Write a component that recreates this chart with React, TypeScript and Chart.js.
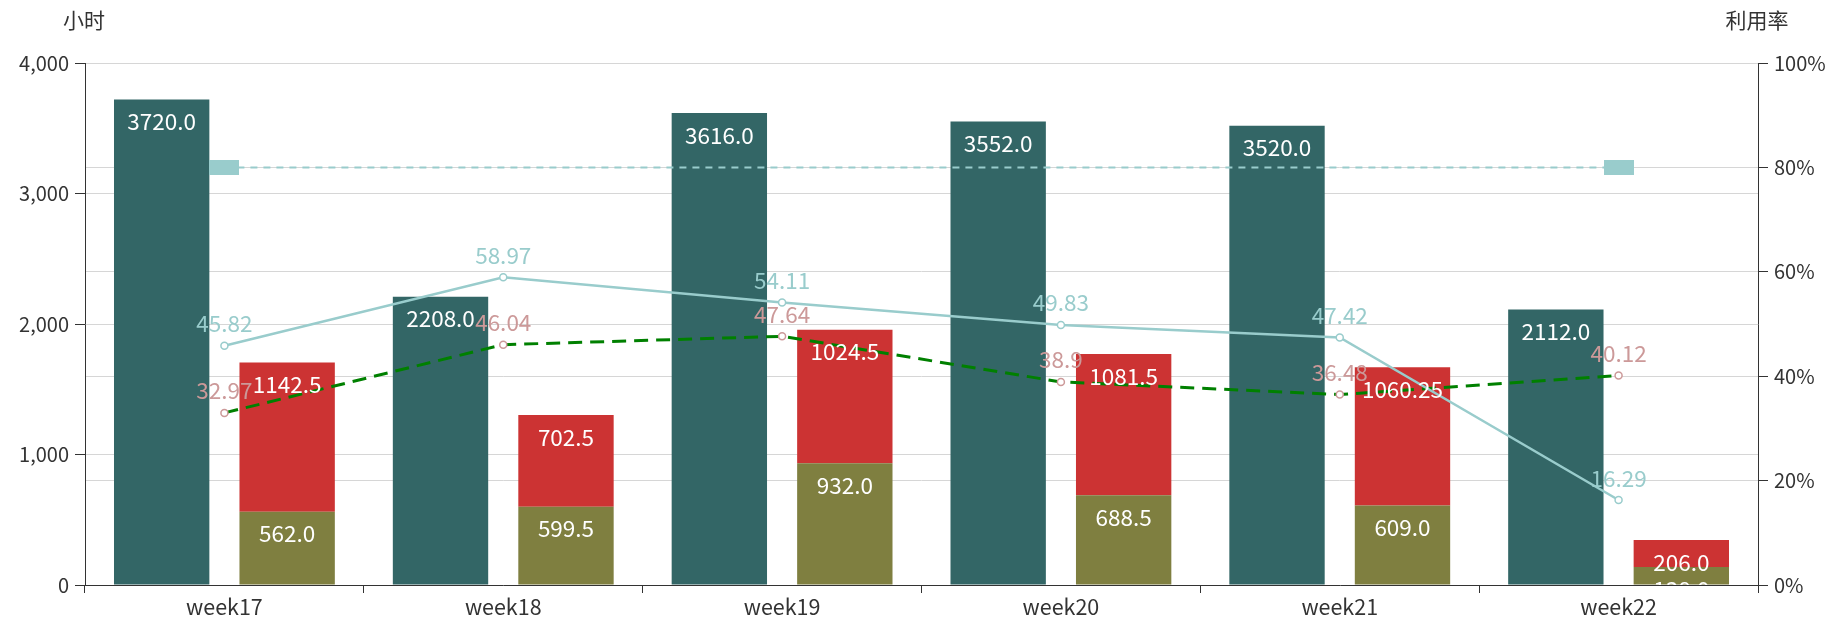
import React, { useEffect, useRef } from 'react';
import { Chart, registerables } from 'chart.js';

Chart.register(...registerables);

const categories = ['week17', 'week18', 'week19', 'week20', 'week21', 'week22'];
const totalHours = [3720, 2208, 3616, 3552, 3520, 2112];
const usedHours = [562, 599.5, 932, 688.5, 609, 138];
const otherHours = [1142.5, 702.5, 1024.5, 1081.5, 1060.25, 206];
const utilRate = [45.82, 58.97, 54.11, 49.83, 47.42, 16.29];
const otherRate = [32.97, 46.04, 47.64, 38.9, 36.48, 40.12];
const targetRate = 80;
const leftAxisName = '小时';
const rightAxisName = '利用率';

const FONT = '"Noto Sans CJK SC", "Noto Sans", sans-serif';
const TEAL = '#336666';
const OLIVE = '#7f7f40';
const RED = '#cc3333';
const LIGHTBLUE = '#99cccc';
const PINK = '#cc9999';
const GREEN = '#008000';

function fmtBar(v: number): string {
  return Number.isInteger(v) ? v.toFixed(1) : String(v);
}

function makeRect(w: number, h: number, color: string): HTMLCanvasElement {
  const c = document.createElement('canvas');
  c.width = w;
  c.height = h;
  const g = c.getContext('2d')!;
  g.fillStyle = color;
  g.fillRect(0, 0, w, h);
  return c;
}

const labelPlugin = {
  id: 'valueLabels',
  afterDatasetsDraw(chart: any) {
    const ctx = chart.ctx;
    const area = chart.chartArea;
    ctx.save();
    ctx.font = `22.5px ${FONT}`;
    ctx.textAlign = 'center';
    ctx.textBaseline = 'middle';
    chart.data.datasets.forEach((ds: any, i: number) => {
      const kind = ds.labelKind;
      if (!kind) return;
      const meta = chart.getDatasetMeta(i);
      meta.data.forEach((el: any, j: number) => {
        const v = ds.data[j];
        if (kind === 'bar') {
          ctx.save();
          ctx.beginPath();
          ctx.rect(area.left, area.top, area.right - area.left, area.bottom - area.top);
          ctx.clip();
          ctx.fillStyle = '#ffffff';
          ctx.fillText(fmtBar(v), el.x, el.y + 22);
          ctx.restore();
        } else {
          ctx.fillStyle = ds.labelColor;
          ctx.fillText(String(v), el.x, el.y - 22);
        }
      });
    });
    ctx.restore();
  },
  afterDraw(chart: any) {
    const ctx = chart.ctx;
    const area = chart.chartArea;
    ctx.save();
    ctx.font = `21px ${FONT}`;
    ctx.fillStyle = '#333333';
    ctx.textAlign = 'center';
    ctx.textBaseline = 'middle';
    ctx.fillText(leftAxisName, area.left - 1, 20);
    ctx.fillText(rightAxisName, area.right - 1, 20);
    ctx.restore();
  },
};

export default function App() {
  const ref = useRef<HTMLCanvasElement | null>(null);

  useEffect(() => {
    document.body.style.margin = '0';
    const canvas = ref.current;
    if (!canvas) return;
    const rectSym = makeRect(30, 15, LIGHTBLUE);
    const chart = new Chart(canvas, {
      type: 'bar',
      data: {
        labels: categories,
        datasets: [
          {
            type: 'line',
            label: 'target',
            data: [
              { x: categories[0], y: targetRate },
              { x: categories[categories.length - 1], y: targetRate },
            ],
            yAxisID: 'y1',
            borderColor: LIGHTBLUE,
            borderWidth: 2,
            borderDash: [7, 6],
            pointStyle: rectSym,
            pointRadius: 8,
            pointHoverRadius: 8,
            order: 0,
          } as any,
          {
            type: 'line',
            label: 'rate',
            data: utilRate,
            yAxisID: 'y1',
            borderColor: LIGHTBLUE,
            borderWidth: 2.5,
            pointRadius: 3.5,
            pointBorderWidth: 1.5,
            pointBorderColor: LIGHTBLUE,
            pointBackgroundColor: '#ffffff',
            tension: 0,
            labelKind: 'line',
            labelColor: LIGHTBLUE,
            order: 0,
          } as any,
          {
            type: 'line',
            label: 'rate2',
            data: otherRate,
            yAxisID: 'y1',
            borderColor: GREEN,
            borderWidth: 3,
            borderDash: [14, 8],
            pointRadius: 3.5,
            pointBorderWidth: 1.5,
            pointBorderColor: PINK,
            pointBackgroundColor: '#ffffff',
            tension: 0,
            labelKind: 'line',
            labelColor: PINK,
            order: 0,
          } as any,
          {
            type: 'bar',
            label: 'total',
            data: totalHours,
            yAxisID: 'y',
            stack: 'total',
            backgroundColor: TEAL,
            categoryPercentage: 0.9,
            barPercentage: 0.76,
            labelKind: 'bar',
            order: 1,
          } as any,
          {
            type: 'bar',
            label: 'used',
            data: usedHours,
            yAxisID: 'y',
            stack: 'used',
            backgroundColor: OLIVE,
            categoryPercentage: 0.9,
            barPercentage: 0.76,
            labelKind: 'bar',
            order: 1,
          } as any,
          {
            type: 'bar',
            label: 'other',
            data: otherHours,
            yAxisID: 'y',
            stack: 'used',
            backgroundColor: RED,
            categoryPercentage: 0.9,
            barPercentage: 0.76,
            labelKind: 'bar',
            order: 1,
          } as any,
        ],
      },
      options: {
        responsive: false,
        animation: false,
        devicePixelRatio: 1,
        layout: { padding: { top: 63, left: 0, right: 0, bottom: 0 } },
        plugins: {
          legend: { display: false },
          tooltip: { enabled: false },
        },
        scales: {
          x: {
            stacked: true,
            offset: true,
            grid: {
              offset: true,
              drawOnChartArea: false,
              drawTicks: true,
              tickLength: 8,
              tickColor: '#333333',
            },
            border: { display: true, color: '#333333', width: 1 },
            ticks: {
              color: '#333333',
              font: { family: FONT, size: 21.5 },
              padding: 1,
              maxRotation: 0,
            },
            afterFit(scale: any) {
              scale.height = 34;
            },
          },
          y: {
            type: 'linear',
            position: 'left',
            stacked: true,
            min: 0,
            max: 4000,
            ticks: {
              stepSize: 1000,
              color: '#333333',
              font: { family: FONT, size: 20 },
              padding: 6,
              callback: (v: any) => Number(v).toLocaleString('en-US'),
            },
            grid: {
              color: '#d6d6d6',
              tickColor: '#333333',
              tickLength: 10,
            },
            border: { display: true, color: '#333333', width: 1 },
            afterFit(scale: any) {
              scale.width = 85;
            },
          },
          y1: {
            type: 'linear',
            position: 'right',
            min: 0,
            max: 100,
            ticks: {
              stepSize: 20,
              color: '#333333',
              font: { family: FONT, size: 20 },
              padding: 6,
              callback: (v: any) => `${v}%`,
            },
            grid: {
              color: '#d6d6d6',
              tickColor: '#333333',
              tickLength: 10,
            },
            border: { display: true, color: '#333333', width: 1 },
            afterFit(scale: any) {
              scale.width = 75;
            },
          },
        },
      } as any,
      plugins: [labelPlugin],
    });
    return () => chart.destroy();
  }, []);

  return (
    <div style={{ position: 'fixed', left: 0, top: 0, width: 1833, height: 619 }}>
      <canvas ref={ref} width={1833} height={619} style={{ width: 1833, height: 619 }} />
    </div>
  );
}
